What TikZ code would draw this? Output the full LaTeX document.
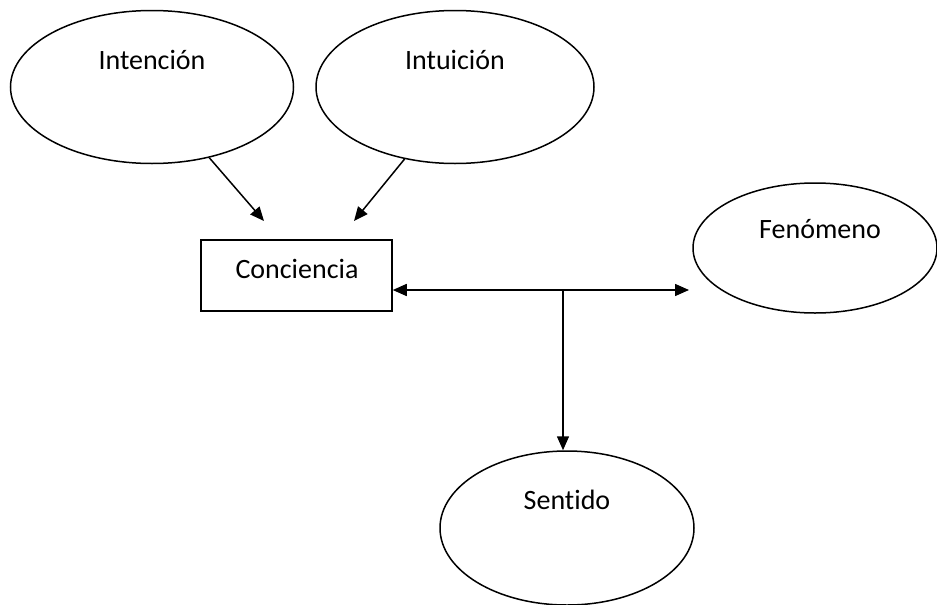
\documentclass[tikz,border=0pt]{standalone}
\usepackage{fontspec}
\setmainfont{Carlito}[Ligatures=NoCommon]
\usetikzlibrary{shapes.geometric,arrows.meta}
\begin{document}
\begin{tikzpicture}[x=1pt,y=-1pt,
  line width=1.5pt,
  oval/.style={draw, ellipse, inner sep=0pt},
  boxnode/.style={draw, rectangle, inner sep=0pt, minimum width=191pt, minimum height=71pt},
  lbl/.style={font=\fontsize{28}{33}\selectfont, inner sep=0pt},
  headtip/.style={-{Triangle[length=14pt,width=12pt]}},
  bothtips/.style={{Triangle[length=14pt,width=12pt]}-{Triangle[length=14pt,width=12pt]}}]
\useasboundingbox (0,0) rectangle (937,605);
\clip (0,0) rectangle (937,605);

% ovals
\node[oval, minimum width=283pt, minimum height=153pt] (intencion) at (152,87) {};
\node[lbl] (tintencion) at (152,60) {Intención};
\node[oval, minimum width=278pt, minimum height=153pt] (intuicion) at (455,87) {};
\node[lbl] (tintuicion) at (455,60) {Intuición};
\node[oval, minimum width=244pt, minimum height=130pt] (fenomeno) at (815,248) {};
\node[lbl] (tfenomeno) at (820,229) {Fenómeno};
\node[oval, minimum width=254pt, minimum height=154pt] (sentido) at (567,528) {};
\node[lbl] (tsentido) at (567,500) {Sentido};

% central box
\node[boxnode] (conciencia) at (296.5,275.5) {};
\node[lbl] (tconciencia) at (297,269) {Conciencia};

% connector end points
\coordinate (inA) at (264,221);
\coordinate (inB) at (354,221);
\coordinate (junc) at (563,290);
\coordinate (toFen) at (689,290);

% connectors
\draw[headtip] (intencion.-51) -- (inA);
\draw[headtip] (intuicion.-125) -- (inB);
\draw[bothtips] (conciencia.east |- junc) -- (toFen);
\draw[headtip] (junc) -- (junc |- sentido.north);
\end{tikzpicture}
\end{document}
